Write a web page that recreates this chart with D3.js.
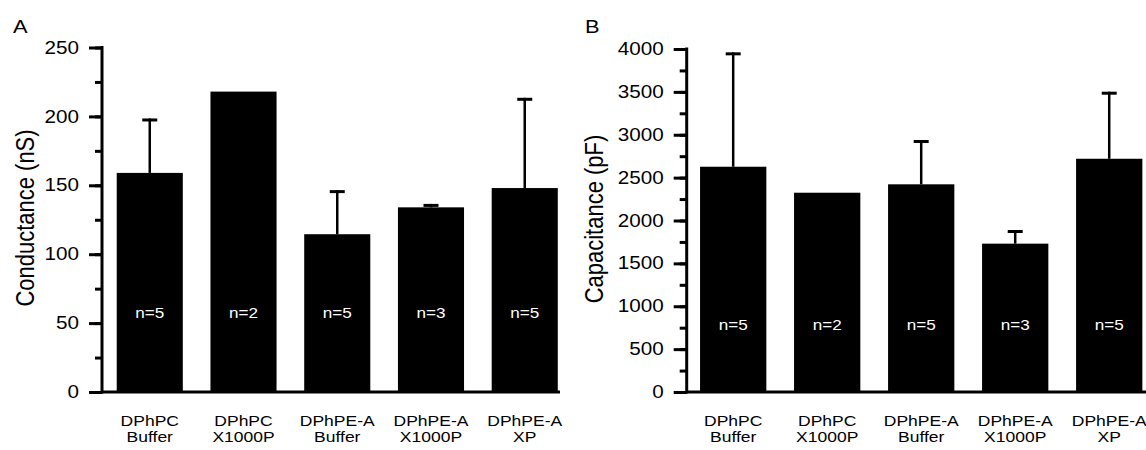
<!DOCTYPE html>
<html>
<head>
<meta charset="utf-8">
<script src="https://cdn.jsdelivr.net/npm/d3@7"></script>
<style>
  body { margin: 0; background: #fff; }
  svg { display: block; font-family: "Liberation Sans", Arial, sans-serif; }
</style>
</head>
<body>
<div id="chart"></div>
<script>
const groupLine1 = ["DPhPC", "DPhPC", "DPhPE-A", "DPhPE-A", "DPhPE-A"];
const groupLine2 = ["Buffer", "X1000P", "Buffer", "X1000P", "XP"];
const sampleN = [5, 2, 5, 3, 5];

const conductance = [159, 218, 114.5, 134, 148];
const conductanceErr = [39.5, 0, 32, 2.5, 65.5];
const conductanceTicks = [0, 50, 100, 150, 200, 250];

const capacitance = [2627, 2324, 2422, 1730, 2720];
const capacitanceErr = [1334, 0, 517, 159, 782];
const capacitanceTicks = [0, 500, 1000, 1500, 2000, 2500, 3000, 3500, 4000];

const width = 1146;
const height = 450;
const stretch = 1.18; // the source text is wider than Arial

const svg = d3.select("#chart").append("svg")
  .attr("width", width)
  .attr("height", height);

function drawPanel(cfg) {
  const rows = groupLine1.map((g, i) => ({
    key: g + " " + groupLine2[i],
    line1: g,
    line2: groupLine2[i],
    n: sampleN[i],
    value: cfg.values[i],
    err: cfg.errs[i]
  }));

  const g = svg.append("g");

  const x = d3.scaleBand()
    .domain(rows.map(d => d.key))
    .range([cfg.axisX, cfg.rangeEnd])
    .paddingInner(0.295)
    .paddingOuter(cfg.outer)
    .align(0.5);

  const y = d3.scaleLinear()
    .domain([0, cfg.max])
    .range([392, cfg.top]);

  // bars
  g.selectAll("rect.bar")
    .data(rows)
    .join("rect")
    .attr("class", "bar")
    .attr("x", d => x(d.key))
    .attr("width", x.bandwidth())
    .attr("y", d => y(d.value))
    .attr("height", d => y(0) - y(d.value))
    .attr("fill", "#000");

  // upper error bars only
  const withErr = rows.filter(d => d.err > 0);
  g.selectAll("line.err")
    .data(withErr)
    .join("line")
    .attr("class", "err")
    .attr("x1", d => x(d.key) + x.bandwidth() / 2)
    .attr("x2", d => x(d.key) + x.bandwidth() / 2)
    .attr("y1", d => y(d.value))
    .attr("y2", d => y(d.value + d.err))
    .attr("stroke", "#000")
    .attr("stroke-width", 2.5);

  g.selectAll("line.cap")
    .data(withErr)
    .join("line")
    .attr("class", "cap")
    .attr("x1", d => x(d.key) + x.bandwidth() / 2 - 7.5)
    .attr("x2", d => x(d.key) + x.bandwidth() / 2 + 7.5)
    .attr("y1", d => y(d.value + d.err) + 1.5)
    .attr("y2", d => y(d.value + d.err) + 1.5)
    .attr("stroke", "#000")
    .attr("stroke-width", 3);

  // n labels inside bars
  g.selectAll("text.nlab")
    .data(rows)
    .join("text")
    .attr("class", "nlab")
    .attr("transform", d => `translate(${x(d.key) + x.bandwidth() / 2},${cfg.nY}) scale(${stretch},1)`)
    .attr("text-anchor", "middle")
    .attr("dy", "0.35em")
    .attr("fill", "#fff")
    .style("font-size", "14.5px")
    .text(d => "n=" + d.n);

  // minor ticks
  const minorAxis = g.append("g")
    .attr("transform", `translate(${cfg.axisX},0)`)
    .call(d3.axisLeft(y).tickValues(d3.range(0, cfg.max + 1, cfg.minor)).tickSize(7).tickFormat(""));
  minorAxis.select(".domain").remove();
  minorAxis.selectAll(".tick line").attr("stroke", "#000").attr("stroke-width", 3);

  // major ticks + labels
  const yAxis = g.append("g")
    .attr("transform", `translate(${cfg.axisX},0)`)
    .call(d3.axisLeft(y).tickValues(cfg.ticks).tickSize(13).tickSizeOuter(0).tickFormat(d3.format("d")));
  yAxis.select(".domain").remove();
  yAxis.selectAll(".tick line").attr("stroke", "#000").attr("stroke-width", 3);
  yAxis.selectAll(".tick text")
    .attr("x", 0)
    .attr("transform", `translate(-23,0) scale(${stretch},1)`)
    .attr("fill", "#000")
    .style("font-size", "17.5px");

  // axis lines
  g.append("line")
    .attr("x1", cfg.axisX).attr("x2", cfg.axisX)
    .attr("y1", y(cfg.max) - 1.5).attr("y2", y(0) + 1.5)
    .attr("stroke", "#000").attr("stroke-width", 3);
  g.append("line")
    .attr("x1", cfg.axisX).attr("x2", cfg.xEnd)
    .attr("y1", y(0)).attr("y2", y(0))
    .attr("stroke", "#000").attr("stroke-width", 3);

  // category labels, two lines
  const cat = g.selectAll("g.cat")
    .data(rows)
    .join("g")
    .attr("class", "cat")
    .attr("transform", d => `translate(${x(d.key) + x.bandwidth() / 2},0)`);
  cat.append("text")
    .attr("transform", "translate(0,425.5) scale(1.13,1)")
    .attr("text-anchor", "middle")
    .style("font-size", "15.5px")
    .text(d => d.line1);
  cat.append("text")
    .attr("transform", "translate(0,441.5) scale(1.13,1)")
    .attr("text-anchor", "middle")
    .style("font-size", "15.5px")
    .text(d => d.line2);

  // y title
  g.append("text")
    .attr("transform", `translate(${cfg.titleX},${cfg.titleY}) scale(${stretch},1) rotate(-90)`)
    .attr("text-anchor", "middle")
    .style("font-size", "22px")
    .text(cfg.title);

  // panel letter
  g.append("text")
    .attr("transform", `translate(${cfg.letterX},33) scale(${stretch},1)`)
    .style("font-size", "18.5px")
    .text(cfg.letter);
}

drawPanel({
  values: conductance, errs: conductanceErr, ticks: conductanceTicks,
  max: 250, minor: 25, top: 47.5,
  axisX: 102, rangeEnd: 572.5, outer: 0.157, xEnd: 560,
  nY: 313, title: "Conductance (nS)", titleX: 34, titleY: 218,
  letter: "A", letterX: 13
});

drawPanel({
  values: capacitance, errs: capacitanceErr, ticks: capacitanceTicks,
  max: 4000, minor: 250, top: 49,
  axisX: 686.7, rangeEnd: 1155.7, outer: 0.142, xEnd: 1146,
  nY: 325, title: "Capacitance (pF)", titleX: 603, titleY: 219,
  letter: "B", letterX: 585
});
</script>
</body>
</html>
